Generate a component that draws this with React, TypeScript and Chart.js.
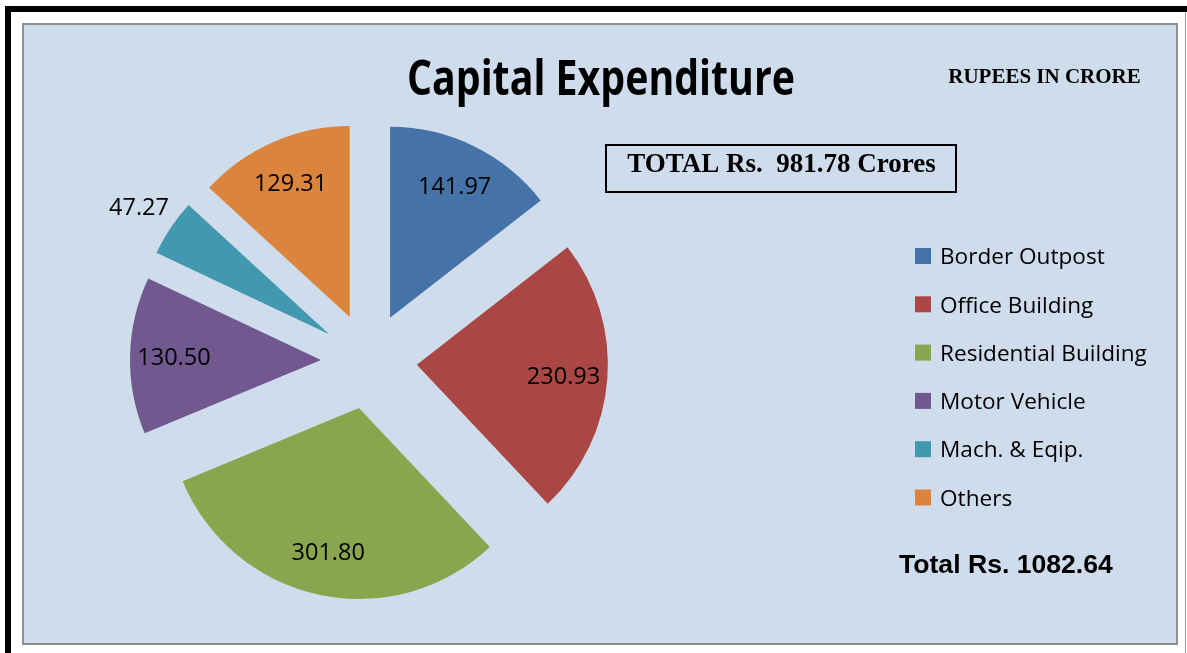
import React, { useEffect, useRef } from 'react';
import { Chart, registerables } from 'chart.js';

Chart.register(...registerables);

// ---- data ----
const CATEGORIES = [
  'Border Outpost',
  'Office Building',
  'Residential Building',
  'Motor Vehicle',
  'Mach. & Eqip.',
  'Others',
];
const VALUES = [141.97, 230.93, 301.8, 130.5, 47.27, 129.31];
const COLORS = ['#4572A7', '#AA4643', '#89A54E', '#71588F', '#4198AF', '#DB843D'];

const TITLE = 'Capital Expenditure';
const UNIT_NOTE = 'RUPEES IN CRORE';
const TOTAL_BOX = 'TOTAL Rs.  981.78 Crores';
const TOTAL_NOTE = 'Total Rs. 1082.64';

// ---- layout / style ----
const W = 1187;
const H = 653;
const CX = 369;
const CY = 361;
const RADIUS = 191;
const EXPLODE = 48;
const BLUE = '#CFDCEC';
const SANS = '"Open Sans", "Noto Sans", sans-serif';
const SERIF = '"Liberation Serif", "DejaVu Serif", serif';
const ARIAL = '"Liberation Sans", Arial, sans-serif';

function midAngle(arc: any) {
  const p = arc.getProps(['startAngle', 'endAngle'], true);
  return (p.startAngle + p.endAngle) / 2;
}

const framePlugin = {
  id: 'frame',
  beforeDraw(chart: any) {
    const ctx = chart.ctx;
    ctx.save();
    ctx.fillStyle = '#ffffff';
    ctx.fillRect(0, 0, W, H);
    ctx.fillStyle = '#000000';
    ctx.fillRect(5, 6, W - 5, 6);
    ctx.fillRect(5, 6, 6, H - 6);
    ctx.fillStyle = '#9a9a9a';
    ctx.fillRect(1185, 12, 1, H - 12);
    ctx.fillStyle = BLUE;
    ctx.fillRect(22, 23, 1156, 621);
    ctx.strokeStyle = '#8e8e8e';
    ctx.lineWidth = 2;
    ctx.strokeRect(23, 24, 1154, 620);
    ctx.restore();
  },
};

const explodePlugin = {
  id: 'explode',
  beforeDatasetDraw(chart: any, args: any) {
    const ctx = chart.ctx;
    args.meta.data.forEach((arc: any) => {
      const a = midAngle(arc);
      ctx.save();
      ctx.translate(Math.cos(a) * EXPLODE, Math.sin(a) * EXPLODE);
      arc.draw(ctx, chart.chartArea);
      ctx.restore();
    });
    return false;
  },
};

const textPlugin = {
  id: 'texts',
  afterDatasetsDraw(chart: any) {
    const ctx = chart.ctx;
    const meta = chart.getDatasetMeta(0);
    const data = chart.data.datasets[0].data as number[];
    const total = data.reduce((s, v) => s + v, 0);
    ctx.save();
    // slice value labels
    ctx.fillStyle = '#000';
    ctx.font = `23.5px ${SANS}`;
    ctx.textAlign = 'center';
    ctx.textBaseline = 'alphabetic';
    meta.data.forEach((arc: any, i: number) => {
      const a = midAngle(arc);
      const ax = arc.x + Math.cos(a) * EXPLODE;
      const ay = arc.y + Math.sin(a) * EXPLODE;
      const frac = data[i] / total;
      const d = frac < 0.06 ? RADIUS * 1.2 : RADIUS * 0.77;
      const x = ax + Math.cos(a) * d;
      const y = ay + Math.sin(a) * d;
      ctx.fillText(data[i].toFixed(2), x, y + 8.4);
    });

    // legend
    const labels = chart.data.labels as string[];
    const colors = chart.data.datasets[0].backgroundColor as string[];
    ctx.font = `22.6px ${SANS}`;
    ctx.textAlign = 'left';
    labels.forEach((lab, i) => {
      const cy = 256 + i * 48.3;
      ctx.fillStyle = colors[i];
      ctx.fillRect(915, cy - 8, 16, 16);
      ctx.fillStyle = '#000';
      ctx.fillText(lab, 940, cy + 8.2);
    });

    // title
    ctx.textAlign = 'center';
    ctx.font = `bold 49px ${SANS}`;
    ctx.fillText(TITLE, 601, 95, 388);

    // unit note
    ctx.font = `bold 21px ${SERIF}`;
    ctx.fillText(UNIT_NOTE, 1044.5, 83);

    // total box
    ctx.strokeStyle = '#000';
    ctx.lineWidth = 2;
    ctx.strokeRect(606, 145, 350, 47);
    ctx.font = `bold 27px ${SERIF}`;
    ctx.fillText(TOTAL_BOX, 781.5, 172);

    // total note
    ctx.textAlign = 'left';
    ctx.font = `bold 26.6px ${ARIAL}`;
    ctx.fillText(TOTAL_NOTE, 899, 573);
    ctx.restore();
  },
};

export default function App() {
  const ref = useRef<HTMLCanvasElement | null>(null);
  useEffect(() => {
    if (!ref.current) return;
    const half = 240;
    const chart = new Chart(ref.current, {
      type: 'pie',
      data: {
        labels: CATEGORIES,
        datasets: [
          {
            data: VALUES,
            backgroundColor: COLORS,
            borderWidth: 0,
          },
        ],
      },
      options: {
        animation: false,
        responsive: false,
        events: [],
        radius: RADIUS,
        layout: {
          padding: {
            left: CX - half,
            right: W - (CX + half),
            top: CY - half,
            bottom: H - (CY + half),
          },
        },
        plugins: {
          legend: { display: false },
          title: { display: false },
          tooltip: { enabled: false },
        },
      } as any,
      plugins: [framePlugin, explodePlugin, textPlugin],
    });
    return () => chart.destroy();
  }, []);
  return (
    <div style={{ position: 'fixed', left: 0, top: 0, width: W, height: H }}>
      <canvas ref={ref} width={W} height={H} style={{ display: 'block' }} />
    </div>
  );
}
